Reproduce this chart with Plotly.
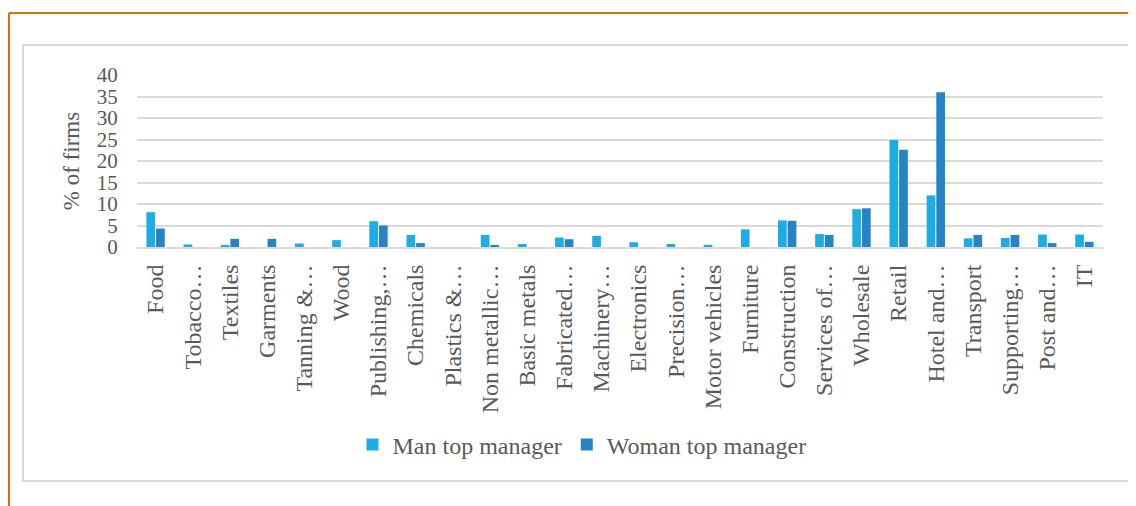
import plotly.graph_objects as go

categories = ["Food", "Tobacco…", "Textiles", "Garments", "Tanning &…", "Wood",
              "Publishing,…", "Chemicals", "Plastics &…", "Non metallic…", "Basic metals",
              "Fabricated…", "Machinery…", "Electronics", "Precision…", "Motor vehicles",
              "Furniture", "Construction", "Services of…", "Wholesale", "Retail",
              "Hotel and…", "Transport", "Supporting…", "Post and…", "IT"]
man_values = [8.1, 0.6, 0.4, 0.0, 0.8, 1.6, 6.0, 2.8, 0.0, 2.8, 0.7, 2.2, 2.6, 1.1,
              0.7, 0.5, 4.1, 6.2, 3.0, 8.8, 24.9, 12.0, 2.0, 2.1, 2.9, 2.9]
woman_values = [4.3, 0.0, 1.9, 1.9, 0.0, 0.0, 5.0, 0.9, 0.0, 0.3, 0.0, 1.8, 0.0, 0.0,
                0.0, 0.0, 0.0, 6.1, 2.8, 9.0, 22.6, 36.0, 2.8, 2.8, 0.9, 1.2]
series_names = ["Man top manager", "Woman top manager"]
y_ticks = [0, 5, 10, 15, 20, 25, 30, 35, 40]

OFF = 8  # page body margin
W, H = 1136 - OFF, 506 - OFF
# plot area in page pixels
L, R, T, B = 137, 1103, 75, 247

def px_x(x):
    return (x - L) / (R - L)

def px_y(y):
    return (B - y) / (B - T)

FONT = "Liberation Serif"
TXT = "#595959"
GRID = "#d9d9d9"
ORANGE = "#E06C10"

fig = go.Figure()
fig.add_trace(go.Bar(x=categories, y=man_values, name=series_names[0],
                     marker=dict(color="#1CADE4", line=dict(width=0))))
fig.add_trace(go.Bar(x=categories, y=woman_values, name=series_names[1],
                     marker=dict(color="#2683C6", line=dict(width=0))))

fig.update_layout(
    width=W, height=H,
    margin=dict(l=L - OFF, r=W - (R - OFF), t=T - OFF, b=H - (B - OFF), pad=0),
    paper_bgcolor="white", plot_bgcolor="white",
    barmode="group", bargap=0.48, bargroupgap=0.1,
    font=dict(family=FONT, color=TXT, size=22),
    showlegend=True,
    legend=dict(orientation="h", x=px_x(582), xanchor="center", y=px_y(445), yanchor="middle",
                font=dict(family=FONT, size=24, color=TXT),
                traceorder="normal"),
    xaxis=dict(tickangle=-90, tickfont=dict(size=24, family=FONT, color=TXT),
               ticks="outside", ticklen=6, tickcolor="rgba(0,0,0,0)",
               showline=True, linecolor=GRID, linewidth=2, showgrid=False,
               categoryorder="array", categoryarray=categories),
    yaxis=dict(range=[0, 40], tickvals=y_ticks, showgrid=True, gridcolor=GRID, gridwidth=2,
               zeroline=False, showline=False,
               ticks="outside", ticklen=14, tickcolor="rgba(0,0,0,0)",
               tickfont=dict(size=21, family=FONT, color=TXT),
               title=dict(text="% of firms", font=dict(size=23, family=FONT, color=TXT),
                          standoff=10)),
    shapes=[
        dict(type="rect", xref="paper", yref="paper",
             x0=px_x(23), x1=px_x(1131), y0=px_y(481), y1=px_y(45),
             line=dict(color=GRID, width=2), fillcolor="rgba(0,0,0,0)", layer="below"),
        dict(type="line", xref="paper", yref="paper",
             x0=px_x(9), x1=px_x(1140), y0=px_y(13), y1=px_y(13),
             line=dict(color=ORANGE, width=2)),
        dict(type="line", xref="paper", yref="paper",
             x0=px_x(9), x1=px_x(9), y0=px_y(13), y1=px_y(510),
             line=dict(color=ORANGE, width=2)),
    ],
)

fig.write_html("out.html")
